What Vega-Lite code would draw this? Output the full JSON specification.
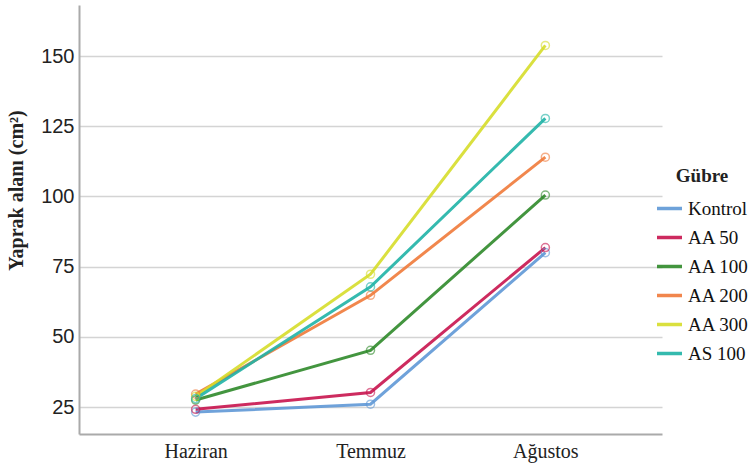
{
  "$schema": "https://vega.github.io/schema/vega-lite/v6.json",
  "autosize": "none",
  "width": 583,
  "height": 429,
  "padding": {"left": 79, "top": 5, "right": 86, "bottom": 33},
  "background": "white",
  "config": {"view": {"stroke": null}},
  "data": {
    "values": [
      {"ay": "Haziran", "gubre": "Kontrol", "v": 23.2},
      {"ay": "Temmuz", "gubre": "Kontrol", "v": 26.0},
      {"ay": "Ağustos", "gubre": "Kontrol", "v": 80.0},
      {"ay": "Haziran", "gubre": "AA 50", "v": 24.2},
      {"ay": "Temmuz", "gubre": "AA 50", "v": 30.2},
      {"ay": "Ağustos", "gubre": "AA 50", "v": 81.8},
      {"ay": "Haziran", "gubre": "AA 100", "v": 27.5},
      {"ay": "Temmuz", "gubre": "AA 100", "v": 45.2},
      {"ay": "Ağustos", "gubre": "AA 100", "v": 100.5},
      {"ay": "Haziran", "gubre": "AA 200", "v": 29.6},
      {"ay": "Temmuz", "gubre": "AA 200", "v": 64.8},
      {"ay": "Ağustos", "gubre": "AA 200", "v": 114.0},
      {"ay": "Haziran", "gubre": "AA 300", "v": 28.8},
      {"ay": "Temmuz", "gubre": "AA 300", "v": 72.3},
      {"ay": "Ağustos", "gubre": "AA 300", "v": 153.8},
      {"ay": "Haziran", "gubre": "AS 100", "v": 28.0},
      {"ay": "Temmuz", "gubre": "AS 100", "v": 67.8},
      {"ay": "Ağustos", "gubre": "AS 100", "v": 127.8}
    ]
  },
  "mark": {"type": "line", "strokeWidth": 3, "opacity": 0.9, "point": {"filled": false, "size": 65, "strokeWidth": 1.5, "opacity": 0.6}},
  "encoding": {
    "x": {
      "field": "ay", "type": "ordinal", "sort": ["Haziran", "Temmuz", "Ağustos"],
      "scale": {"type": "point", "padding": 0.667},
      "axis": {
        "title": null, "labelAngle": 0, "ticks": false, "grid": false,
        "labelFont": "Liberation Serif", "labelFontSize": 20, "labelColor": "#222",
        "labelPadding": 7, "domainColor": "#aaaaaa", "domainWidth": 2
      }
    },
    "y": {
      "field": "v", "type": "quantitative",
      "scale": {"domain": [15.4, 168.2], "nice": false, "zero": false},
      "axis": {
        "title": "Yaprak alanı (cm²)", "values": [25, 50, 75, 100, 125, 150],
        "titleFont": "Liberation Serif", "titleFontSize": 20, "titleFontWeight": "bold", "titleColor": "#222",
        "titleX": -63, "titleY": 185, "titleBaseline": "middle", "titleAngle": -90, "titleAlign": "center",
        "labelFont": "Liberation Sans", "labelFontSize": 20, "labelColor": "#222", "labelPadding": 5,
        "ticks": false, "grid": true, "gridColor": "#d4d4d4", "gridWidth": 1.5,
        "domainColor": "#aaaaaa", "domainWidth": 2
      }
    },
    "color": {
      "field": "gubre", "type": "nominal",
      "sort": ["Kontrol", "AA 50", "AA 100", "AA 200", "AA 300", "AS 100"],
      "scale": {
        "domain": ["Kontrol", "AA 50", "AA 100", "AA 200", "AA 300", "AS 100"],
        "range": ["#5f98d6", "#c8144e", "#2f8a2a", "#f07a3a", "#d6dd2a", "#1fb3a6"]
      },
      "legend": {
        "title": "Gübre", "orient": "none", "legendX": 576, "legendY": 162,
        "titleFont": "Liberation Serif", "titleFontSize": 19, "titleFontWeight": "bold", "titleColor": "#222",
        "titlePadding": 8, "titleAnchor": "middle",
        "labelFont": "Liberation Serif", "labelFontSize": 19, "labelColor": "#111",
        "symbolType": "stroke", "symbolStrokeWidth": 3.5, "symbolSize": 625,
        "rowPadding": 4, "labelOffset": 4
      }
    }
  }
}
